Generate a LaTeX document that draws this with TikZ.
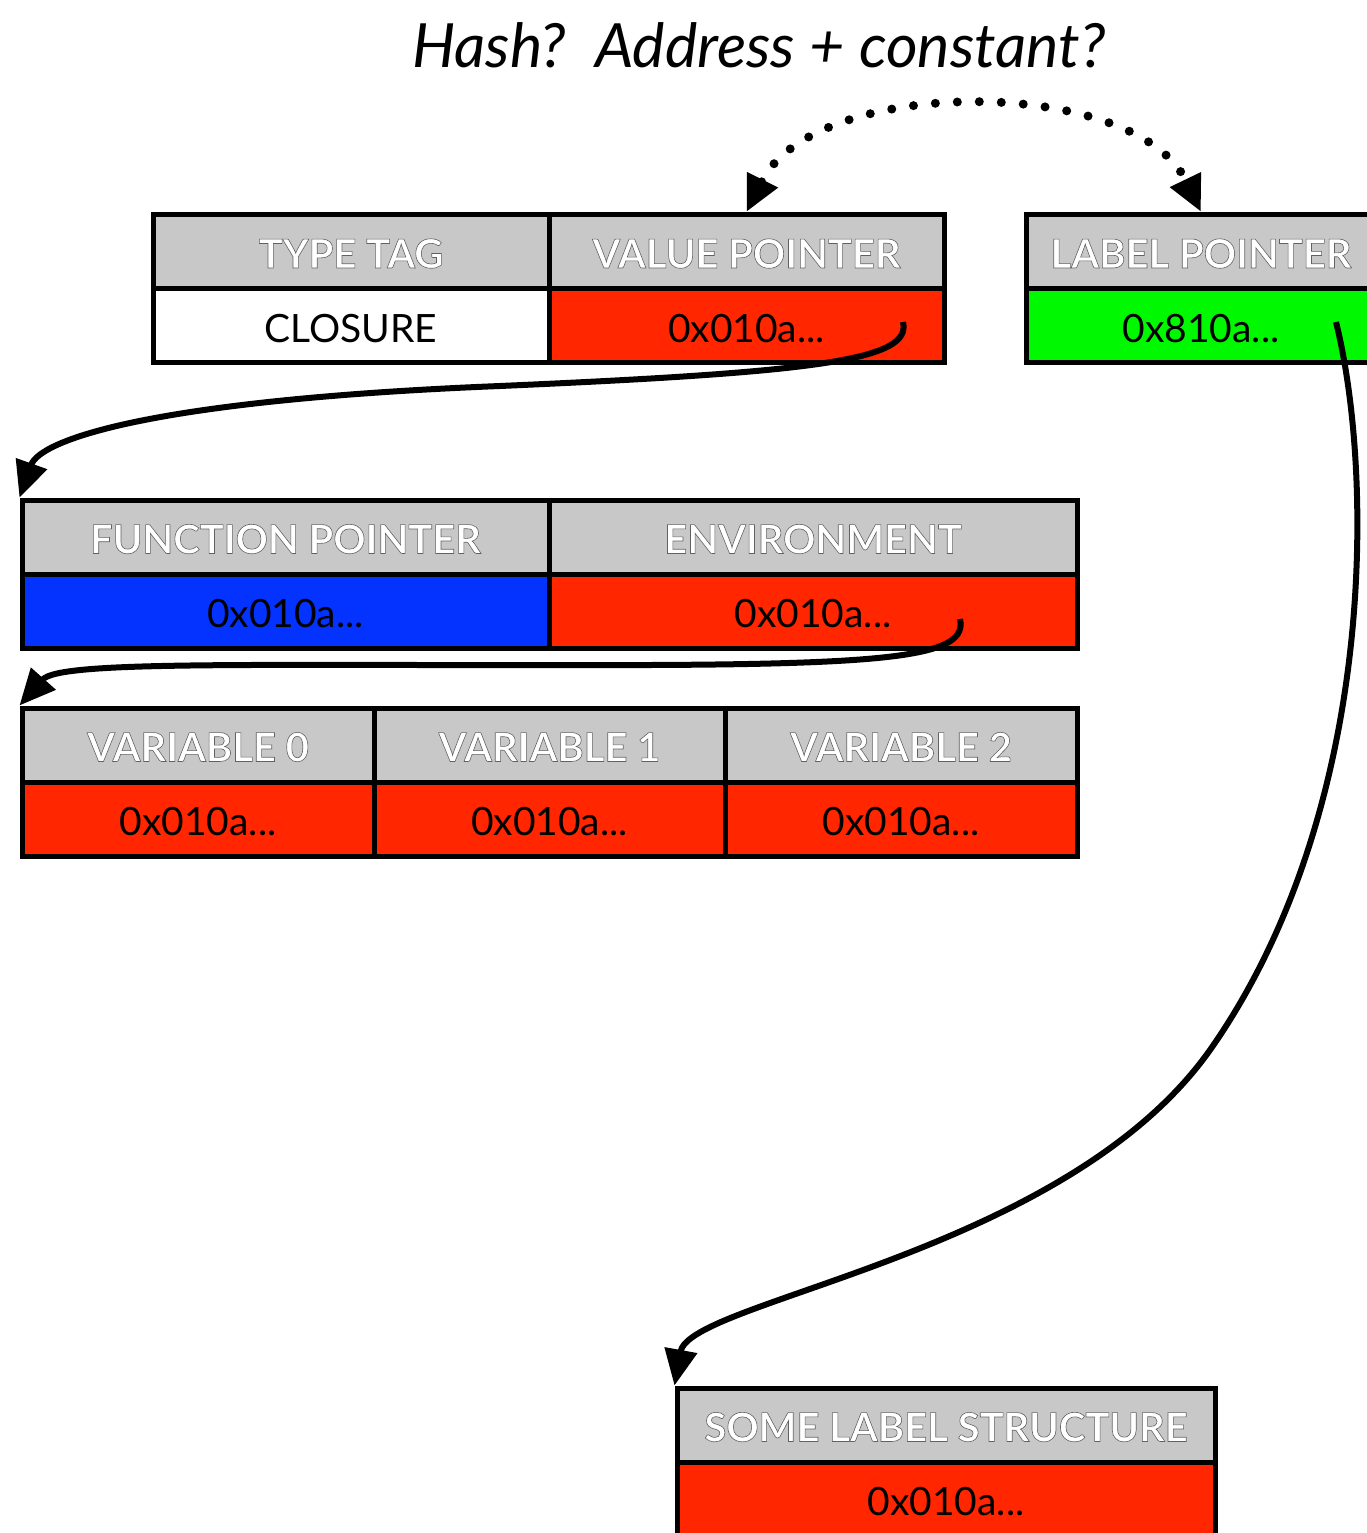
\documentclass[tikz,border=0pt]{standalone}
\usepackage{fontspec}
\setmainfont{Lato}
\usetikzlibrary{arrows.meta}

\definecolor{hdrgray}{RGB}{200,200,200}
\definecolor{ptrred}{RGB}{255,38,0}
\definecolor{fnblue}{RGB}{4,51,255}
\definecolor{lblgreen}{RGB}{0,249,0}

% white caption with a thin dark rim (fill + stroke text rendering)
\newcommand{\shtext}[1]{\textcolor{white}{%
  \special{pdf:literal direct 2 Tr 0.6 w 0.38 G}#1\special{pdf:literal direct 0 Tr}}}

\tikzset{
  cell/.style={draw=black, line width=5pt, inner sep=0pt, minimum height=74pt,
               text height=33pt, text depth=0pt,
               font=\fontsize{39}{40}\selectfont, text=black},
  hdr/.style={cell, fill=hdrgray, font=\fontsize{40}{40}\selectfont\bfseries},
  link/.style={line width=6pt, -{Triangle[length=36pt,width=32pt]}},
  dotlink/.style={line width=9pt, line cap=round, dash pattern=on 0pt off 22pt,
                  {Triangle[length=36pt,width=32pt]}-{Triangle[length=36pt,width=32pt]}},
}

\begin{document}
\begin{tikzpicture}[x=1pt,y=-1pt]
\useasboundingbox (0,0) rectangle (1367,1533);

% title
\node[font=\fontsize{61}{68}\selectfont\itshape] (title) at (759,45) {Hash?\ \ Address + constant?};

% closure record
\node[hdr, minimum width=396pt] (tag) at (351,251.5) {\shtext{TYPE TAG}};
\node[hdr, minimum width=395pt] (valptr) at (746.5,251.5) {\shtext{VALUE POINTER}};
\node[cell, fill=white, minimum width=396pt] (clos) at (351,325.5) {CLOSURE};
\node[cell, fill=ptrred, minimum width=395pt] (valaddr) at (746.5,325.5) {0x010a...};

% label pointer record
\node[hdr, minimum width=350pt] (lblptr) at (1201,251.5) {\shtext{LABEL POINTER}};
\node[cell, fill=lblgreen, minimum width=350pt] (lbladdr) at (1201,325.5) {0x810a...};

% closure body
\node[hdr, minimum width=527pt] (fnhdr) at (285.5,537) {\shtext{FUNCTION POINTER}};
\node[hdr, minimum width=528pt] (envhdr) at (813,537) {\shtext{ENVIRONMENT}};
\node[cell, fill=fnblue, minimum width=527pt] (fnaddr) at (285.5,611) {0x010a...};
\node[cell, fill=ptrred, minimum width=528pt] (envaddr) at (813,611) {0x010a...};

% environment
\node[hdr, minimum width=352pt] (var0) at (198,745) {\shtext{VARIABLE 0}};
\node[hdr, minimum width=351pt] (var1) at (549.5,745) {\shtext{VARIABLE 1}};
\node[hdr, minimum width=352pt] (var2) at (901,745) {\shtext{VARIABLE 2}};
\node[cell, fill=ptrred, minimum width=352pt] (var0addr) at (198,819) {0x010a...};
\node[cell, fill=ptrred, minimum width=351pt] (var1addr) at (549.5,819) {0x010a...};
\node[cell, fill=ptrred, minimum width=352pt] (var2addr) at (901,819) {0x010a...};

% label structure
\node[hdr, minimum width=538pt] (slhdr) at (946,1425) {\shtext{SOME LABEL STRUCTURE}};
\node[cell, fill=ptrred, minimum width=538pt] (sladdr) at (946,1499) {0x010a...};

% pointer sources inside the cells
\coordinate (valsrc) at (903,322);
\coordinate (envsrc) at (960,619);
\coordinate (lblsrc) at (1336,322);

% connectors
\draw[dotlink] (valptr.north) .. controls (815,75) and (1135,75) .. (lblptr.north);
\draw[link] (valsrc) .. controls (912,360) and (820,372) .. (500,386)
                     .. controls (150,400) and (40,440) .. (fnhdr.north west);
\draw[link] (envsrc) .. controls (968,655) and (900,664) .. (650,665)
                     .. controls (250,666) and (60,660) .. (var0.north west);
\draw[link] (lblsrc) .. controls (1375,480) and (1375,815) .. (1210,1050)
                     .. controls (1065,1255) and (690,1300) .. (slhdr.north west);
\end{tikzpicture}
\end{document}
